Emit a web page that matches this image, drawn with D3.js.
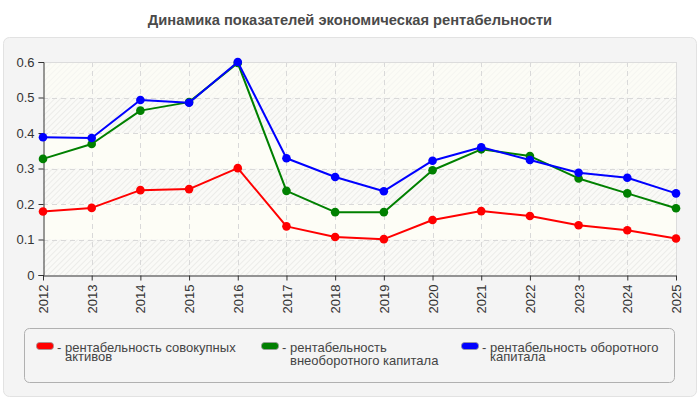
<!DOCTYPE html>
<html>
<head>
<meta charset="utf-8">
<script src="https://cdn.jsdelivr.net/npm/d3@7"></script>
<style>
  html, body { margin: 0; padding: 0; background: #fff; }
  svg { display: block; font-family: "Liberation Sans", Arial, sans-serif; }
</style>
</head>
<body>
<svg id="chart" width="700" height="400"></svg>
<script>
const years = [2012, 2013, 2014, 2015, 2016, 2017, 2018, 2019, 2020, 2021, 2022, 2023, 2024, 2025];
const assetsReturn   = [0.179, 0.189, 0.239, 0.242, 0.301, 0.137, 0.107, 0.101, 0.155, 0.180, 0.166, 0.140, 0.126, 0.103];
const fixedReturn    = [0.327, 0.369, 0.463, 0.487, 0.597, 0.237, 0.177, 0.177, 0.295, 0.354, 0.335, 0.272, 0.230, 0.188];
const currentReturn  = [0.388, 0.386, 0.493, 0.485, 0.600, 0.329, 0.276, 0.236, 0.322, 0.360, 0.324, 0.288, 0.274, 0.230];
const yTicks = [0, 0.1, 0.2, 0.3, 0.4, 0.5, 0.6];
const seriesNames = ["рентабельность совокупных активов", "рентабельность внеоборотного капитала", "рентабельность оборотного капитала"];
const legendLines = [["рентабельность совокупных", "активов"], ["рентабельность", "внеоборотного капитала"], ["рентабельность оборотного", "капитала"]];
const seriesColors = ["#ff0000", "#008000", "#0000ff"];
const title = "Динамика показателей экономическая рентабельности";

const series = [assetsReturn, fixedReturn, currentReturn].map((vals, i) => ({
  name: seriesNames[i], color: seriesColors[i], legend: legendLines[i],
  points: years.map((y, j) => ({ year: y, value: vals[j] }))
}));

const svg = d3.select("#chart");
const defs = svg.append("defs");
const pat = defs.append("pattern").attr("id", "hatch").attr("patternUnits", "userSpaceOnUse")
  .attr("width", 4).attr("height", 4).attr("patternTransform", "rotate(45)");
pat.append("rect").attr("width", 4).attr("height", 4).attr("fill", "#fafaf7");
pat.append("line").attr("x1", 0).attr("y1", 0).attr("x2", 0).attr("y2", 4)
  .attr("stroke", "#e9e9e6").attr("stroke-width", 1.6);

// outer panel
svg.append("rect").attr("x", 3.5).attr("y", 37.5).attr("width", 693).attr("height", 359)
  .attr("rx", 6).attr("fill", "#f4f4f4").attr("stroke", "#e2e2e2");

// title
svg.append("text").attr("x", 350).attr("y", 25).attr("text-anchor", "middle")
  .attr("font-size", 14.7).attr("font-weight", "bold").attr("fill", "#4a4a4a").text(title);

const L = 43, R = 676, T = 62, B = 275;
const x = d3.scalePoint().domain(years).range([L, R]);
const y = d3.scaleLinear().domain([0, 0.6]).range([B, T]);

const plot = svg.append("g");
plot.append("rect").attr("x", L).attr("y", T).attr("width", R - L).attr("height", B - T).attr("fill", "#fdfdf6");
// alternating hatched bands
const bands = d3.pairs(yTicks).filter((d, i) => i % 2 === 0);
plot.selectAll("rect.band").data(bands).enter().append("rect").attr("class", "band")
  .attr("x", L).attr("width", R - L)
  .attr("y", d => y(d[1])).attr("height", d => y(d[0]) - y(d[1]))
  .attr("fill", "url(#hatch)");
// top faint hatch band
plot.append("rect").attr("x", L).attr("width", R - L).attr("y", y(0.6)).attr("height", y(0.5) - y(0.6))
  .attr("fill", "url(#hatch)").attr("opacity", 0.45);

// grid
plot.selectAll("line.hg").data(yTicks.filter(t => t > 0 && t < 0.6)).enter().append("line")
  .attr("x1", L).attr("x2", R).attr("y1", d => Math.round(y(d)) + 0.5).attr("y2", d => Math.round(y(d)) + 0.5)
  .attr("stroke", "#d9d9d9").attr("stroke-dasharray", "5,4");
plot.selectAll("line.vg").data(years.slice(1, -1)).enter().append("line")
  .attr("y1", T).attr("y2", B).attr("x1", d => Math.round(x(d)) + 0.5).attr("x2", d => Math.round(x(d)) + 0.5)
  .attr("stroke", "#d9d9d9").attr("stroke-dasharray", "5,4");
plot.append("line").attr("x1", L).attr("x2", R).attr("y1", T + 0.5).attr("y2", T + 0.5).attr("stroke", "#dcdcdc");
plot.append("line").attr("x1", R + 0.5).attr("x2", R + 0.5).attr("y1", T).attr("y2", B).attr("stroke", "#dcdcdc");

// axes
const yAxis = d3.axisLeft(y).tickValues(yTicks).tickFormat(d => d === 0 ? "0" : d3.format(".1f")(d)).tickSize(5).tickPadding(4);
const gy = svg.append("g").attr("transform", `translate(${L + 0.5},0)`).call(yAxis);
gy.selectAll("path, line").attr("stroke", "#333");
gy.selectAll("text").attr("font-size", 13).attr("fill", "#333").attr("font-family", "Liberation Sans, Arial, sans-serif");

const xAxis = d3.axisBottom(x).tickSize(5).tickSizeOuter(0);
const gx = svg.append("g").attr("transform", `translate(0,${B + 0.5})`).call(xAxis);
gx.selectAll("path, line").attr("stroke", "#333");
gx.selectAll("text").attr("font-size", 13).attr("fill", "#333").attr("font-family", "Liberation Sans, Arial, sans-serif")
  .attr("transform", "rotate(-90)").attr("text-anchor", "end")
  .attr("x", -9).attr("y", 0).attr("dy", "0.35em");

// lines
const line = d3.line().x(d => x(d.year)).y(d => y(d.value));
const sg = svg.selectAll("g.series").data(series).enter().append("g").attr("class", "series");
sg.append("path").attr("d", d => line(d.points)).attr("fill", "none")
  .attr("stroke", d => d.color).attr("stroke-width", 2).attr("stroke-linejoin", "round");
sg.selectAll("circle").data(d => d.points.map(p => ({ ...p, color: d.color }))).enter().append("circle")
  .attr("cx", d => x(d.year)).attr("cy", d => y(d.value)).attr("r", 4.3).attr("fill", d => d.color);

// legend
svg.append("rect").attr("x", 24.5).attr("y", 328.5).attr("width", 650).attr("height", 54)
  .attr("rx", 5).attr("fill", "#f4f4f4").attr("stroke", "#b0b0b0");
const legX = [36, 261, 461];
const secondLineDy = [9.5, 13, 9.5];
const lg = svg.selectAll("g.leg").data(series).enter().append("g").attr("class", "leg")
  .attr("transform", (d, i) => `translate(${legX[i]},0)`);
lg.append("rect").attr("x", 0.5).attr("y", 342.5).attr("width", 17).attr("height", 7).attr("rx", 3)
  .attr("fill", d => d.color).attr("stroke", "#999").attr("stroke-width", 0.8);
const lt = lg.append("text").attr("x", 21).attr("y", 351.5).attr("font-size", 13).attr("fill", "#444");
lt.append("tspan").text("- ");
lt.append("tspan").attr("x", 29).text(d => d.legend[0]);
lt.append("tspan").attr("x", 29).attr("dy", (d, i) => secondLineDy[i]).text(d => d.legend[1]);
</script>
</body>
</html>
